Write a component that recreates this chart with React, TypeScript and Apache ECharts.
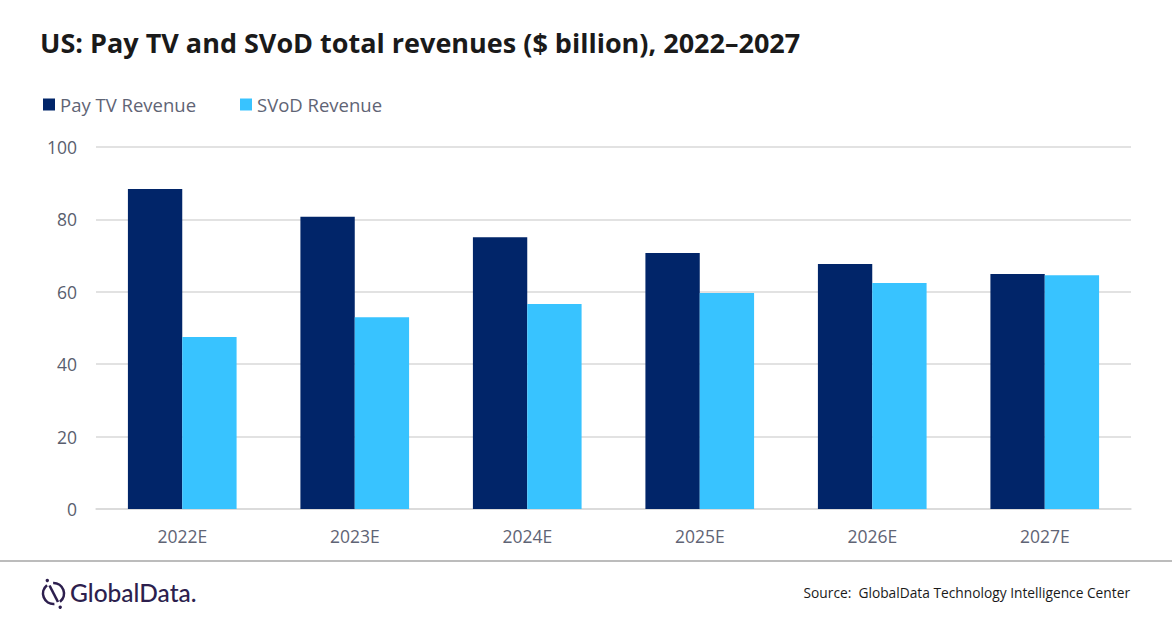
import React, { useEffect, useRef } from "react";
import * as echarts from "echarts";

const categories = ["2022E", "2023E", "2024E", "2025E", "2026E", "2027E"];
const payTvRevenue = [88.4, 80.7, 75.1, 70.7, 67.7, 64.9];
const svodRevenue = [47.5, 53.0, 56.6, 59.7, 62.4, 64.6];
const seriesNames = ["Pay TV Revenue", "SVoD Revenue"];
const yTicks = { min: 0, max: 100, interval: 20 };

const FONT = "'Open Sans', Lato, 'Noto Sans', sans-serif";
const LOGO_FONT = "Lato, 'Open Sans', sans-serif";

export default function App() {
  const ref = useRef<HTMLDivElement>(null);
  useEffect(() => {
    document.body.style.margin = "0";
    if (!ref.current) return;
    const chart = echarts.init(ref.current, null, { renderer: "svg" });
    const logoColor = "#2d1f4e";
    chart.setOption({
      animation: false,
      backgroundColor: "#ffffff",
      textStyle: { fontFamily: FONT },
      grid: { left: 96, right: 41, top: 147, bottom: 119, containLabel: false },
      legend: {
        left: 38,
        top: 90,
        itemWidth: 12,
        itemHeight: 12,
        itemGap: 44,
        icon: "rect",
        textStyle: { fontSize: 18.5, color: "#5f6475", fontFamily: FONT },
        data: seriesNames,
      },
      xAxis: {
        type: "category",
        data: categories,
        axisLine: { show: true, lineStyle: { color: "#d9d9d9", width: 1.5 } },
        axisTick: { show: false },
        axisLabel: { fontSize: 17.5, color: "#5f6475", margin: 18, fontFamily: FONT },
      },
      yAxis: {
        type: "value",
        min: yTicks.min,
        max: yTicks.max,
        interval: yTicks.interval,
        axisLine: { show: false },
        axisTick: { show: false },
        splitLine: { lineStyle: { color: "#d9d9d9", width: 1.5 } },
        axisLabel: { fontSize: 17.5, color: "#595e6e", margin: 19, fontFamily: FONT },
      },
      series: [
        {
          name: seriesNames[0],
          type: "bar",
          data: payTvRevenue,
          itemStyle: { color: "#012569" },
          barGap: "0%",
          barCategoryGap: "37%",
        },
        {
          name: seriesNames[1],
          type: "bar",
          data: svodRevenue,
          itemStyle: { color: "#38c3ff" },
          barGap: "0%",
          barCategoryGap: "37%",
        },
      ],
      graphic: [
        {
          type: "text",
          left: 40,
          top: 29,
          style: {
            text: "US: Pay TV and SVoD total revenues ($ billion), 2022\u20132027",
            font: `bold 27px ${FONT}`,
            fill: "#1a1a1a",
          },
        },
        {
          type: "line",
          shape: { x1: 0, y1: 561, x2: 1172, y2: 561 },
          style: { stroke: "#a6a6a6", lineWidth: 1.5 },
        },
        {
          type: "arc",
          shape: { cx: 53.5, cy: 593.5, r: 10.5, startAngle: (85 * Math.PI) / 180, endAngle: (232 * Math.PI) / 180 },
          style: { stroke: logoColor, lineWidth: 2.6, fill: "none" },
        },
        {
          type: "arc",
          shape: { cx: 53.5, cy: 593.5, r: 10.5, startAngle: (268 * Math.PI) / 180, endAngle: (412 * Math.PI) / 180 },
          style: { stroke: logoColor, lineWidth: 2.6, fill: "none" },
        },
        {
          type: "line",
          shape: { x1: 49.5, y1: 585.5, x2: 58, y2: 602 },
          style: { stroke: logoColor, lineWidth: 2.6 },
        },
        {
          type: "circle",
          shape: { cx: 47.3, cy: 580.5, r: 1.7 },
          style: { fill: logoColor },
        },
        {
          type: "circle",
          shape: { cx: 60.2, cy: 607.3, r: 1.7 },
          style: { fill: logoColor },
        },
        {
          type: "text",
          left: 70,
          top: 580,
          style: {
            text: "GlobalData.",
            font: `500 24.5px ${LOGO_FONT}`,
            fill: logoColor,
          },
        },
        {
          type: "text",
          right: 42,
          top: 585,
          style: {
            text: "Source:  GlobalData Technology Intelligence Center",
            font: `13.75px ${FONT}`,
            fill: "#1a1a1a",
          },
        },
      ],
    });
    return () => chart.dispose();
  }, []);
  return <div ref={ref} style={{ width: 1172, height: 628 }} />;
}
